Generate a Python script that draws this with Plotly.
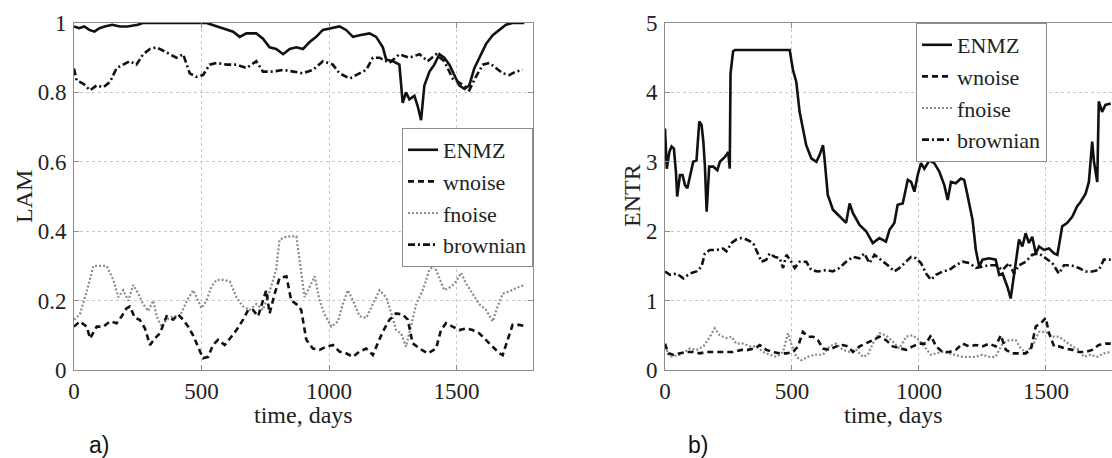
import plotly.graph_objects as go

# ---------------- Panel a) LAM ----------------
lam_enmz_days = [0, 20, 40, 60, 80, 100, 120, 150, 180, 210, 250, 270, 520, 559, 585, 624, 650, 676, 715, 741,
                 767, 793, 820, 846, 872, 898, 924, 950, 976, 1015, 1041, 1067, 1094, 1120, 1159, 1185, 1211,
                 1224, 1250, 1276, 1289, 1302, 1315, 1335, 1348, 1361, 1374, 1394, 1413, 1433, 1452, 1472,
                 1491, 1511, 1531, 1550, 1570, 1589, 1616, 1642, 1668, 1694, 1720, 1766]
lam_enmz = [0.99, 0.985, 0.99, 0.98, 0.975, 0.985, 0.99, 0.995, 0.99, 0.99, 0.995, 1.0, 1.0, 0.99, 0.985,
            0.975, 0.96, 0.97, 0.97, 0.955, 0.93, 0.925, 0.91, 0.925, 0.93, 0.925, 0.945, 0.96, 0.98, 0.985,
            0.99, 0.98, 0.96, 0.965, 0.97, 0.96, 0.93, 0.895, 0.89, 0.88, 0.77, 0.80, 0.78, 0.79, 0.76, 0.72,
            0.82, 0.86, 0.88, 0.91, 0.90, 0.88, 0.85, 0.82, 0.81, 0.82, 0.87, 0.90, 0.94, 0.965, 0.98, 0.995,
            1.0, 1.0]

lam_wnoise_days = [0, 23, 50, 63, 89, 115, 141, 167, 187, 206, 219, 239, 258, 278, 298, 317, 337, 363, 389, 408,
                   428, 448, 467, 487, 506, 526, 545, 565, 591, 617, 637, 663, 683, 702, 722, 741, 754, 767, 787,
                   806, 833, 852, 872, 891, 911, 937, 963, 989, 1015, 1041, 1067, 1094, 1120, 1146, 1172, 1191,
                   1211, 1237, 1263, 1289, 1309, 1328, 1355, 1387, 1420, 1439, 1459, 1485, 1511, 1537, 1563,
                   1589, 1616, 1642, 1668, 1681, 1700, 1720, 1746, 1766]
lam_wnoise = [0.125, 0.14, 0.125, 0.091, 0.125, 0.125, 0.14, 0.135, 0.155, 0.178, 0.183, 0.15, 0.145, 0.12,
              0.072, 0.091, 0.106, 0.155, 0.145, 0.16, 0.145, 0.125, 0.10, 0.067, 0.034, 0.038, 0.072, 0.087,
              0.072, 0.096, 0.115, 0.145, 0.173, 0.173, 0.155, 0.20, 0.23, 0.163, 0.22, 0.265, 0.27, 0.20,
              0.19, 0.173, 0.087, 0.062, 0.058, 0.067, 0.072, 0.053, 0.048, 0.038, 0.053, 0.062, 0.043, 0.077,
              0.11, 0.145, 0.163, 0.16, 0.145, 0.077, 0.062, 0.048, 0.062, 0.115, 0.135, 0.125, 0.115, 0.12,
              0.115, 0.106, 0.087, 0.067, 0.048, 0.043, 0.087, 0.13, 0.13, 0.127]

lam_fnoise_days = [0, 23, 50, 76, 102, 128, 154, 174, 193, 213, 232, 252, 271, 291, 311, 324, 343, 363, 389, 415,
                   441, 467, 487, 500, 519, 539, 559, 585, 611, 637, 663, 689, 715, 741, 767, 793, 806, 833,
                   872, 885, 904, 924, 944, 963, 983, 1009, 1035, 1054, 1074, 1094, 1120, 1146, 1172, 1198,
                   1224, 1244, 1263, 1283, 1302, 1322, 1342, 1368, 1394, 1413, 1433, 1452, 1479, 1498, 1518,
                   1537, 1563, 1589, 1616, 1642, 1661, 1681, 1707, 1733, 1766]
lam_fnoise = [0.145, 0.16, 0.226, 0.30, 0.30, 0.30, 0.26, 0.21, 0.23, 0.20, 0.245, 0.22, 0.19, 0.17, 0.20,
              0.155, 0.125, 0.145, 0.155, 0.155, 0.197, 0.23, 0.20, 0.178, 0.20, 0.24, 0.26, 0.26, 0.255, 0.21,
              0.183, 0.173, 0.19, 0.173, 0.226, 0.29, 0.375, 0.385, 0.385, 0.31, 0.21, 0.24, 0.27, 0.20, 0.16,
              0.125, 0.14, 0.19, 0.23, 0.20, 0.155, 0.15, 0.19, 0.23, 0.21, 0.165, 0.115, 0.105, 0.067, 0.125,
              0.19, 0.23, 0.29, 0.30, 0.265, 0.23, 0.24, 0.255, 0.28, 0.25, 0.22, 0.19, 0.173, 0.14, 0.183,
              0.22, 0.226, 0.236, 0.245]

lam_brown_days = [0, 10, 37, 63, 89, 115, 141, 167, 193, 219, 245, 271, 298, 324, 350, 376, 402, 428, 454, 480,
                  506, 532, 559, 598, 637, 676, 715, 741, 780, 820, 859, 898, 937, 976, 1015, 1041, 1081, 1120,
                  1146, 1172, 1198, 1237, 1276, 1315, 1355, 1387, 1420, 1452, 1485, 1518, 1550, 1576, 1603,
                  1629, 1655, 1681, 1707, 1733, 1759]
lam_brown = [0.869, 0.835, 0.825, 0.806, 0.82, 0.815, 0.83, 0.87, 0.88, 0.89, 0.88, 0.91, 0.925, 0.93, 0.92,
             0.91, 0.90, 0.91, 0.855, 0.845, 0.85, 0.88, 0.885, 0.88, 0.88, 0.87, 0.89, 0.86, 0.86, 0.865,
             0.86, 0.855, 0.865, 0.89, 0.88, 0.855, 0.84, 0.855, 0.865, 0.90, 0.90, 0.885, 0.91, 0.90, 0.91,
             0.89, 0.91, 0.89, 0.84, 0.825, 0.806, 0.845, 0.88, 0.885, 0.87, 0.855, 0.85, 0.86, 0.865]

# ---------------- Panel b) ENTR ----------------
ent_enmz_days = [0, 7, 17, 26, 35, 43, 48, 59, 69, 79, 88, 98, 111, 124, 135, 144, 151, 157, 164, 174, 190, 206,
                 216, 236, 249, 255, 258, 268, 275, 491, 504, 517, 530, 543, 556, 576, 596, 609, 622, 628, 641,
                 648, 661, 694, 713, 727, 740, 766, 792, 818, 844, 870, 884, 903, 916, 936, 956, 969, 982, 995,
                 1008, 1021, 1041, 1060, 1080, 1100, 1113, 1126, 1145, 1165, 1178, 1191, 1204, 1211, 1224,
                 1237, 1250, 1276, 1302, 1316, 1329, 1348, 1361, 1374, 1394, 1407, 1420, 1433, 1446, 1460,
                 1473, 1492, 1512, 1532, 1545, 1564, 1584, 1604, 1623, 1636, 1656, 1669, 1682, 1689, 1702,
                 1708, 1721, 1734, 1755]
ent_enmz = [3.48, 2.9, 3.14, 3.22, 3.19, 2.86, 2.50, 2.81, 2.81, 2.66, 2.62, 2.81, 3.0, 3.02, 3.58, 3.53, 3.29,
            2.95, 2.28, 2.93, 2.93, 2.88, 3.0, 3.07, 3.14, 2.9, 4.27, 4.59, 4.61, 4.61, 4.32, 4.15, 3.72, 3.48,
            3.24, 3.05, 3.0, 3.1, 3.24, 3.05, 2.52, 2.45, 2.31, 2.19, 2.12, 2.40, 2.26, 2.09, 2.0, 1.83, 1.9,
            1.85, 2.02, 2.12, 2.38, 2.40, 2.74, 2.71, 2.57, 2.81, 2.98, 2.9, 3.02, 2.98, 2.86, 2.66, 2.45, 2.71,
            2.69, 2.76, 2.74, 2.52, 2.30, 2.16, 1.73, 1.49, 1.59, 1.61, 1.59, 1.37, 1.39, 1.20, 1.03, 1.39,
            1.88, 1.78, 1.97, 1.83, 1.92, 1.68, 1.78, 1.73, 1.75, 1.68, 1.66, 2.07, 2.12, 2.21, 2.36, 2.42,
            2.54, 2.71, 3.29, 3.0, 2.71, 3.87, 3.72, 3.82, 3.84]

ent_wnoise_days = [0, 13, 33, 59, 85, 111, 137, 164, 190, 216, 242, 268, 301, 327, 353, 373, 399, 425, 452, 478,
                   504, 524, 543, 563, 583, 602, 622, 648, 674, 700, 720, 740, 766, 792, 818, 844, 870, 897,
                   923, 949, 975, 1001, 1028, 1047, 1067, 1093, 1119, 1145, 1172, 1198, 1224, 1250, 1276, 1302,
                   1322, 1342, 1368, 1394, 1420, 1440, 1460, 1479, 1499, 1512, 1532, 1551, 1577, 1604, 1630,
                   1656, 1682, 1708, 1734, 1755]
ent_wnoise = [0.38, 0.24, 0.22, 0.24, 0.26, 0.26, 0.24, 0.26, 0.26, 0.26, 0.26, 0.26, 0.29, 0.29, 0.31, 0.36,
              0.29, 0.26, 0.24, 0.24, 0.26, 0.34, 0.55, 0.48, 0.48, 0.43, 0.31, 0.29, 0.34, 0.36, 0.34, 0.26,
              0.34, 0.38, 0.43, 0.48, 0.43, 0.34, 0.31, 0.29, 0.34, 0.38, 0.38, 0.50, 0.34, 0.26, 0.26, 0.29,
              0.38, 0.34, 0.36, 0.34, 0.38, 0.34, 0.50, 0.29, 0.24, 0.24, 0.24, 0.29, 0.63, 0.67, 0.75, 0.53,
              0.34, 0.34, 0.31, 0.29, 0.26, 0.26, 0.29, 0.36, 0.38, 0.38]

ent_fnoise_days = [0, 20, 59, 98, 124, 151, 177, 196, 216, 242, 262, 281, 308, 334, 360, 386, 412, 439, 465, 484,
                   497, 517, 537, 563, 589, 622, 648, 674, 700, 727, 753, 779, 799, 818, 844, 870, 897, 923,
                   949, 975, 1001, 1028, 1047, 1067, 1093, 1119, 1145, 1172, 1198, 1224, 1250, 1276, 1302,
                   1329, 1355, 1381, 1401, 1420, 1446, 1473, 1499, 1525, 1551, 1577, 1604, 1630, 1649, 1676,
                   1702, 1728, 1755]
ent_fnoise = [0.34, 0.19, 0.22, 0.31, 0.29, 0.34, 0.48, 0.60, 0.50, 0.46, 0.48, 0.38, 0.38, 0.34, 0.34, 0.26,
              0.22, 0.19, 0.26, 0.53, 0.38, 0.19, 0.14, 0.19, 0.22, 0.22, 0.34, 0.38, 0.29, 0.26, 0.29, 0.19,
              0.22, 0.38, 0.53, 0.50, 0.41, 0.31, 0.48, 0.50, 0.43, 0.31, 0.22, 0.24, 0.26, 0.24, 0.22, 0.19,
              0.19, 0.19, 0.22, 0.19, 0.19, 0.38, 0.43, 0.43, 0.31, 0.26, 0.34, 0.55, 0.55, 0.48, 0.48, 0.41,
              0.34, 0.29, 0.19, 0.22, 0.19, 0.24, 0.26]

ent_brown_days = [0, 20, 46, 72, 98, 124, 144, 157, 177, 203, 229, 242, 262, 281, 301, 321, 347, 367, 380, 399,
                  412, 432, 452, 465, 478, 497, 511, 530, 556, 576, 602, 635, 661, 687, 713, 740, 766, 785, 805,
                  825, 851, 877, 903, 923, 949, 969, 988, 1008, 1028, 1047, 1067, 1093, 1119, 1145, 1172, 1198,
                  1224, 1250, 1276, 1302, 1329, 1355, 1374, 1394, 1420, 1446, 1473, 1499, 1525, 1551, 1571,
                  1597, 1630, 1656, 1682, 1708, 1728, 1755]
ent_brown = [1.42, 1.37, 1.39, 1.32, 1.39, 1.42, 1.49, 1.68, 1.73, 1.73, 1.75, 1.71, 1.83, 1.88, 1.90, 1.88,
             1.83, 1.66, 1.56, 1.59, 1.68, 1.63, 1.61, 1.47, 1.66, 1.56, 1.47, 1.56, 1.56, 1.44, 1.42, 1.44,
             1.42, 1.47, 1.56, 1.63, 1.61, 1.68, 1.54, 1.66, 1.59, 1.51, 1.42, 1.47, 1.56, 1.63, 1.61, 1.54,
             1.39, 1.30, 1.37, 1.42, 1.44, 1.51, 1.56, 1.54, 1.47, 1.49, 1.51, 1.51, 1.44, 1.54, 1.39, 1.51,
             1.56, 1.66, 1.68, 1.61, 1.54, 1.39, 1.51, 1.51, 1.47, 1.42, 1.42, 1.44, 1.59, 1.59]

series_names = ["ENMZ", "wnoise", "fnoise", "brownian"]
x_ticks = [0, 500, 1000, 1500]
lam_ticks = [0, 0.2, 0.4, 0.6, 0.8, 1]
lam_tick_text = ["0", "0.2", "0.4", "0.6", "0.8", "1"]
ent_ticks = [0, 1, 2, 3, 4, 5]

# ---------------- styling ----------------
W, H = 1112, 458
SERIF = "Liberation Serif"
styles = {
    "ENMZ": dict(color="#111111", width=2.6, dash="solid"),
    "wnoise": dict(color="#111111", width=2.6, dash="6px,4px"),
    "fnoise": dict(color="#8a8a8a", width=2.2, dash="2px,2px"),
    "brownian": dict(color="#111111", width=2.6, dash="7px,3px,2px,3px"),
}

fig = go.Figure()

panel_a = [(lam_enmz_days, lam_enmz), (lam_wnoise_days, lam_wnoise),
           (lam_fnoise_days, lam_fnoise), (lam_brown_days, lam_brown)]
panel_b = [(ent_enmz_days, ent_enmz), (ent_wnoise_days, ent_wnoise),
           (ent_fnoise_days, ent_fnoise), (ent_brown_days, ent_brown)]

order = [2, 1, 3, 0]
for i in order:
    name = series_names[i]
    xs, ys = panel_a[i]
    fig.add_trace(go.Scatter(x=xs, y=ys, mode="lines", name=name, line=styles[name],
                             xaxis="x", yaxis="y", legend="legend", legendrank=i + 1))
for i in order:
    name = series_names[i]
    xs, ys = panel_b[i]
    fig.add_trace(go.Scatter(x=xs, y=ys, mode="lines", name=name, line=styles[name],
                             xaxis="x2", yaxis="y2", legend="legend2", legendrank=i + 1))

def px_x(p):
    return p / W

def px_y(p):
    return 1 - p / H

axis_common = dict(
    showline=True, linecolor="#8c8c8c", linewidth=1,
    ticks="inside", ticklen=5, tickcolor="#8c8c8c", tickwidth=1,
    showgrid=True, gridcolor="#c8c8c8", griddash="dot", gridwidth=1,
    zeroline=False, automargin=False,
    tickfont=dict(family=SERIF, size=23, color="#222222"),
)

ydom = [px_y(370), px_y(23)]
legend_font = dict(family=SERIF, size=22, color="#222222")

fig.update_layout(
    width=W, height=H,
    margin=dict(l=0, r=0, t=0, b=0, autoexpand=False),
    paper_bgcolor="white", plot_bgcolor="white",
    font=dict(family=SERIF, size=24, color="#222222"),
    xaxis=dict(domain=[px_x(74), px_x(533)], range=[0, 1800], tickvals=x_ticks, mirror="ticks",
               anchor="y", ticklabelstandoff=0, **axis_common),
    yaxis=dict(domain=ydom, range=[0, 1], tickvals=lam_ticks, ticktext=lam_tick_text, mirror="ticks",
               anchor="x", ticklabelstandoff=2, **axis_common),
    xaxis2=dict(domain=[px_x(665), 1.0], range=[0, 1760], tickvals=x_ticks, mirror="ticks",
                anchor="y2", ticklabelstandoff=0, **axis_common),
    yaxis2=dict(domain=ydom, range=[0, 5], tickvals=ent_ticks, mirror=False,
                anchor="x2", ticklabelstandoff=2, **axis_common),
    legend=dict(x=px_x(533), xanchor="right", y=px_y(128), yanchor="top",
                bgcolor="white", bordercolor="#8c8c8c", borderwidth=1, font=legend_font,
                tracegroupgap=0, itemwidth=30, traceorder="normal"),
    legend2=dict(x=px_x(916), xanchor="left", y=px_y(23), yanchor="top",
                 bgcolor="white", bordercolor="#8c8c8c", borderwidth=1, font=legend_font,
                 tracegroupgap=0, itemwidth=30, traceorder="normal"),
    showlegend=True,
)

annots = [
    dict(text="LAM", x=px_x(24), y=px_y(197), textangle=-90),
    dict(text="ENTR", x=px_x(632), y=px_y(196), textangle=-90),
    dict(text="time, days", x=px_x(303), y=px_y(415)),
    dict(text="time, days", x=px_x(893), y=px_y(415)),
]
for a in annots:
    fig.add_annotation(xref="paper", yref="paper", showarrow=False, xanchor="center", yanchor="middle",
                       font=dict(family=SERIF, size=24, color="#222222"), **a)

for lbl, cx in [("a)", 99), ("b)", 698)]:
    fig.add_annotation(xref="paper", yref="paper", showarrow=False, text=lbl, x=px_x(cx), y=px_y(445),
                       xanchor="center", yanchor="middle",
                       font=dict(family="Liberation Sans", size=23, color="#111111"))

fig.write_html("out.html", config={"displayModeBar": False},
               post_script="document.body.style.margin='0';document.body.style.overflow='hidden';")
